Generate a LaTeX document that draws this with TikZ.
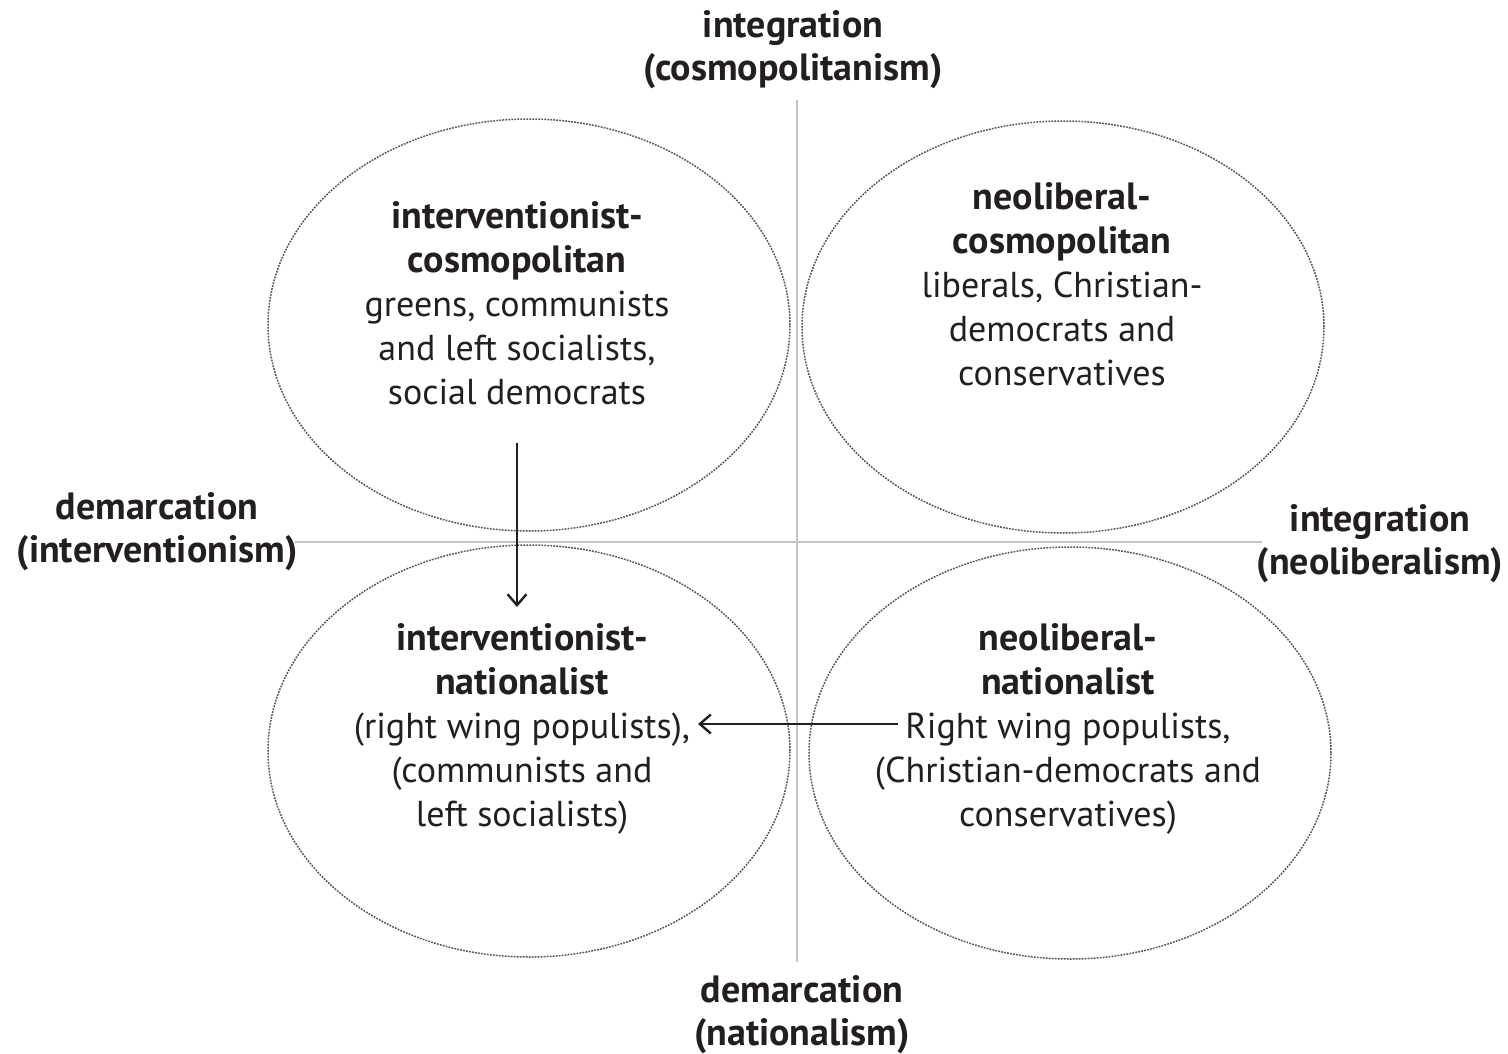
\documentclass[tikz,border=0pt]{standalone}
\usepackage{fontspec}
\setmainfont{PT Sans}
\usepackage{tikz}
\usetikzlibrary{arrows.meta,positioning,shapes.geometric}
\definecolor{ink}{HTML}{231F20}
\definecolor{axisgray}{HTML}{C4C4C4}
\definecolor{rimgray}{HTML}{555555}
\newcommand{\hd}{\fontsize{38}{44}\selectfont\bfseries}

\begin{document}
\begin{tikzpicture}[x=1pt,y=-1pt,
 ell/.style={draw=rimgray,ellipse,line width=1.5pt,dash pattern=on 1.8pt off 1.2pt,
              minimum width=522pt,minimum height=412pt,inner sep=0pt},
 quad/.style={align=center,text=ink,font=\fontsize{36}{44}\selectfont},
 axislabel/.style={align=center,text=ink,font=\fontsize{38}{43}\selectfont\bfseries},
 axis/.style={draw=axisgray,line width=2pt},
 arrow/.style={-{Straight Barb[length=11pt,width=19pt]},line width=2.4pt,draw=ink}]
\useasboundingbox (0,0) rectangle (1508,1054);
% axes
\coordinate (top) at (797,100);
\coordinate (bot) at (797,962);
\coordinate (lft) at (295,542);
\coordinate (rgt) at (1262,542);
\draw[axis] (top)--(bot);
\draw[axis] (lft)--(rgt);
\node[axislabel] (north) at (793,50) {integration\\(cosmopolitanism)};
\node[axislabel] (south) at (802,1015) {demarcation\\(nationalism)};
\node[axislabel] (west) at (157,532) {demarcation\\(interventionism)};
\node[axislabel] (east) at (1380,544) {integration\\(neoliberalism)};
% quadrants
\node[ell] (ic) at (529,325) {};
\node[ell] (nc) at (1063,327) {};
\node[ell] (in) at (529,751) {};
\node[ell] (nn) at (1070,753) {};
\node[quad] (ictext) at (517,303) {{\hd interventionist-}\\{\hd cosmopolitan}\\greens, communists\\and left socialists,\\social democrats};
\node[quad] (nctext) at (1062,284) {{\hd neoliberal-}\\{\hd cosmopolitan}\\liberals, Christian-\\democrats and\\conservatives};
\node[quad] (intext) at (522,729) {{\hd interventionist-}\\{\hd nationalist}\\(right wing populists),\\(communists and\\left socialists)};
\node[quad] (nntext) at (1068,729) {{\hd neoliberal-}\\{\hd nationalist}\\Right wing populists,\\(Christian-democrats and\\conservatives)};
% shifts
\coordinate (downA) at (517,443);
\coordinate (downB) at (517,607);
\coordinate (leftA) at (898,724);
\coordinate (leftB) at (698,724);
\draw[arrow] (downA)--(downB);
\draw[arrow] (leftA)--(leftB);
\end{tikzpicture}
\end{document}
